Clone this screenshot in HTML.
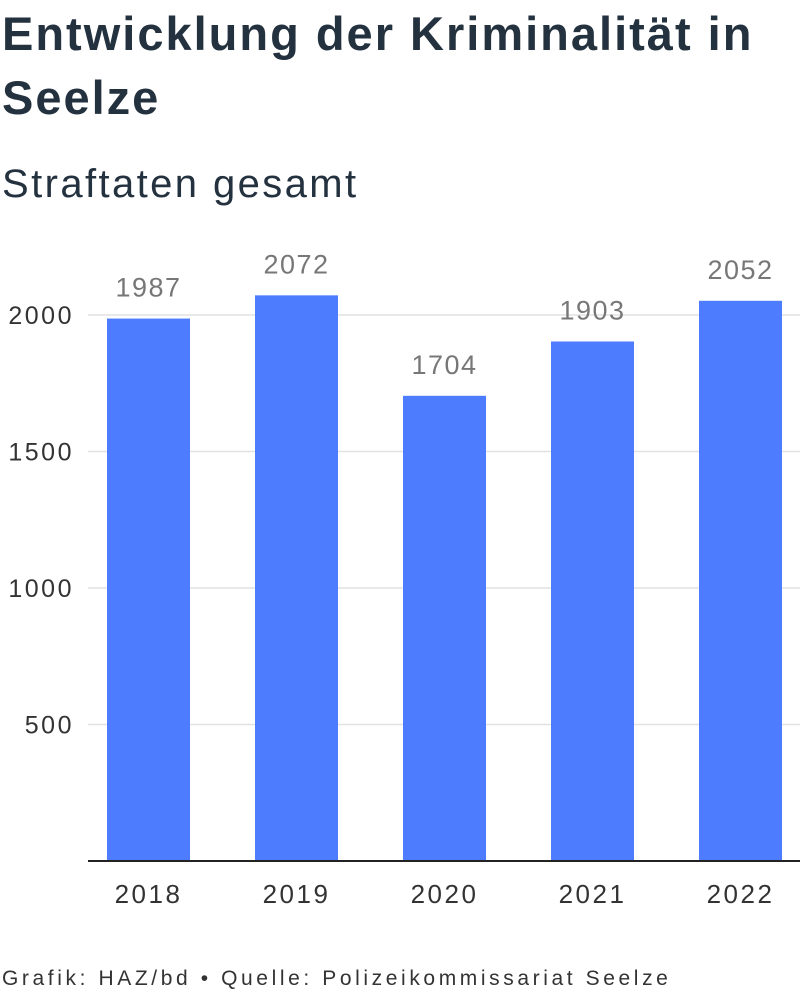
<!DOCTYPE html>
<html><head><meta charset="utf-8"><style>
body{margin:0;width:800px;height:1000px;background:#fff;font-family:"Liberation Sans",sans-serif;overflow:hidden;position:relative}
.title{position:absolute;left:2px;top:2px;font-size:47px;font-weight:bold;color:#243240;line-height:64px;width:798px;letter-spacing:2px}
.sub{position:absolute;left:2px;top:162px;font-size:40px;color:#243240;letter-spacing:2.4px}
.foot{position:absolute;left:2px;top:967px;font-size:21px;color:#333;letter-spacing:3.6px;white-space:nowrap}
svg{position:absolute;left:0;top:0}
</style></head><body>
<div class="title">Entwicklung der Kriminalität in Seelze</div>
<div class="sub">Straftaten gesamt</div>
<svg id="chart" width="800" height="1000"></svg>
<div class="foot">Grafik: HAZ/bd • Quelle: Polizeikommissariat Seelze</div>
<script>
const categories=["2018","2019","2020","2021","2022"];
const values=[1987,2072,1704,1903,2052];
const yTicks=[500,1000,1500,2000];
const svg=document.getElementById('chart');
const NS="http://www.w3.org/2000/svg";
const y0=861,scale=546/2000;
const y=v=>y0-v*scale;
const x=i=>107+i*148;
const bw=83;
function mk(t,a,txt){const e=document.createElementNS(NS,t);for(const k in a)e.setAttribute(k,a[k]);if(txt!==undefined)e.textContent=txt;svg.appendChild(e);return e;}
yTicks.forEach(t=>{
const g=mk('line',{x1:88,x2:800,y1:y(t),y2:y(t),stroke:'#e2e2e2','stroke-width':1.5});


const l=mk('text',{x:74,y:y(t)+9,'text-anchor':'end','font-size':25,'letter-spacing':2.5,fill:'#333','font-family':'Liberation Sans, sans-serif'},String(t));


});
categories.forEach((c,i)=>{
const r=mk('rect',{x:x(i),y:y(values[i]),width:bw,height:y0-y(values[i]),fill:'#4d7cfe'});


const v=mk('text',{x:x(i)+bw/2,y:y(values[i])-22,'text-anchor':'middle','font-size':27,'letter-spacing':1.5,fill:'#777','font-family':'Liberation Sans, sans-serif'},String(values[i]));


const xl=mk('text',{x:x(i)+bw/2,y:903,'text-anchor':'middle','font-size':26,'letter-spacing':2.5,fill:'#333','font-family':'Liberation Sans, sans-serif'},c);


});
const ax=mk('line',{x1:88,x2:800,y1:y0,y2:y0,stroke:'#222','stroke-width':2});


</script>
</body></html>
